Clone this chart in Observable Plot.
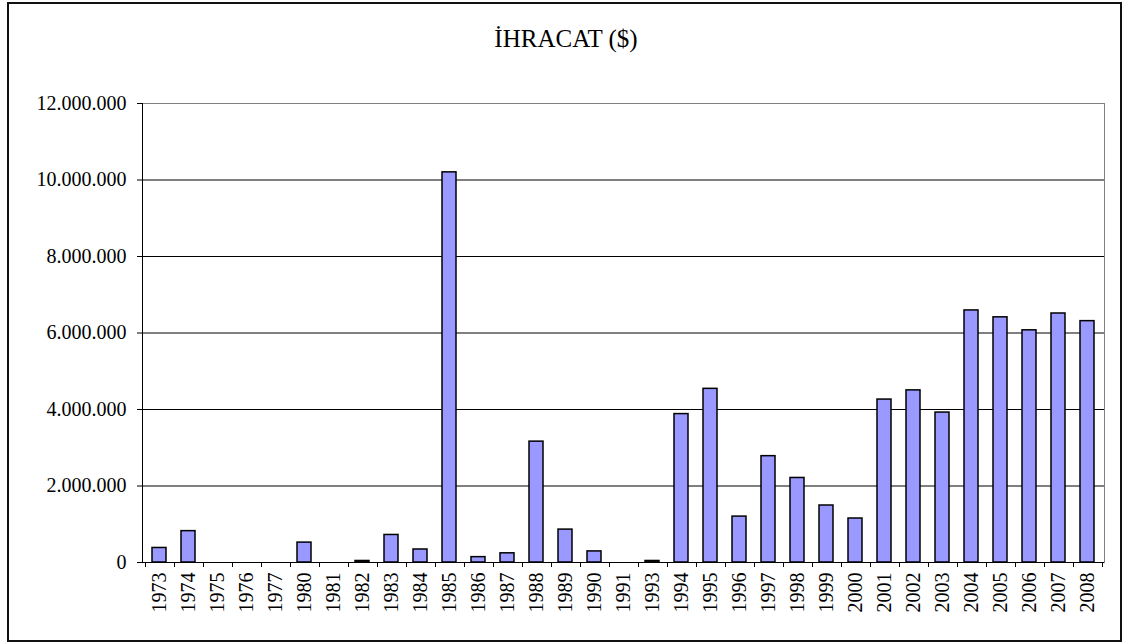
<!DOCTYPE html>
<html>
<head>
<meta charset="utf-8">
<script src="https://cdn.jsdelivr.net/npm/d3@7"></script>
<script src="https://cdn.jsdelivr.net/npm/@observablehq/plot@0.6"></script>
<style>
  html, body { margin: 0; padding: 0; background: #fff; }
  #wrap { position: relative; width: 1123px; height: 643px; overflow: hidden; font-family: "Liberation Serif", "Times New Roman", serif; }
  #border { position: absolute; left: 7px; top: 2px; width: 1115px; height: 640px; border: 2px solid #111; box-sizing: border-box; pointer-events: none; }
  #title { position: absolute; left: 0; top: 25px; width: 1132px; text-align: center; font-size: 25px; color: #000; font-family: "Liberation Serif", "Times New Roman", serif; }
  #chart { position: absolute; left: 0; top: 0; }
  #chart svg text { font-family: "Liberation Serif", "Times New Roman", serif; }
</style>
</head>
<body>
<div id="wrap">
  <div id="chart"></div>
  <div id="title">İHRACAT ($)</div>
  <div id="border"></div>
</div>
<script>
const years = ["1973","1974","1975","1976","1977","1980","1981","1982","1983","1984","1985","1986","1987","1988","1989","1990","1991","1993","1994","1995","1996","1997","1998","1999","2000","2001","2002","2003","2004","2005","2006","2007","2008"];
const values = [380000, 820000, 0, 0, 0, 520000, 0, 40000, 720000, 340000, 10200000, 140000, 240000, 3160000, 860000, 290000, 0, 40000, 3880000, 4540000, 1200000, 2780000, 2210000, 1490000, 1150000, 4260000, 4500000, 3920000, 6590000, 6410000, 6070000, 6510000, 6310000];
const yTicks = [0, 2000000, 4000000, 6000000, 8000000, 10000000, 12000000];

const data = years.map((year, i) => ({year, value: values[i]}));
const fmt = d3.formatLocale({decimal: ",", thousands: ".", grouping: [3], currency: ["", "$"]}).format(",");

const plot = Plot.plot({
  width: 1123,
  height: 643,
  marginLeft: 142,
  marginRight: 19,
  marginTop: 103,
  marginBottom: 81,
  style: {fontFamily: "Liberation Serif, Times New Roman, serif", fontSize: "20px", color: "#000", background: "transparent"},
  x: {domain: years, paddingInner: 0.52, paddingOuter: 0.26, label: null},
  y: {domain: [0, 12000000], label: null},
  marks: [
    Plot.frame({stroke: "#808080"}),
    Plot.ruleY(yTicks.filter(t => t > 0 && t < 12000000), {stroke: "#000", strokeWidth: 1}),
    Plot.barY(data, {filter: d => d.value > 0, x: "year", y: "value", fill: "#9999FF", stroke: "#000", strokeWidth: 1.5}),
    Plot.ruleY([0], {stroke: "#000", strokeWidth: 1}),
    Plot.axisY({ticks: yTicks, tickFormat: fmt, tickSize: 5, tickPadding: 11, label: null}),
    Plot.axisX({tickRotate: -90, tickSize: 0, tickPadding: 10, label: null})
  ]
});
document.getElementById("chart").appendChild(plot);

// boundary ticks and left axis line, from the plot's own scales
const xs = plot.scale("x"), ys = plot.scale("y");
const step = xs.step, bw = xs.bandwidth;
const y0 = ys.apply(0), yTop = ys.apply(12000000);
const svg = d3.select(plot);
const g = svg.append("g").attr("stroke", "#000").attr("stroke-width", 1);
const bounds = years.map(yr => xs.apply(yr) - (step - bw) / 2);
bounds.push(xs.apply(years[years.length - 1]) + bw + (step - bw) / 2);
bounds.forEach(b => {
  const bx = Math.round(b) + 0.5;
  g.append("line").attr("x1", bx).attr("x2", bx).attr("y1", y0).attr("y2", y0 + 5);
});
const lx = Math.round(xs.range[0]) + 0.5;
g.append("line").attr("x1", lx).attr("x2", lx).attr("y1", yTop).attr("y2", y0);
</script>
</body>
</html>
